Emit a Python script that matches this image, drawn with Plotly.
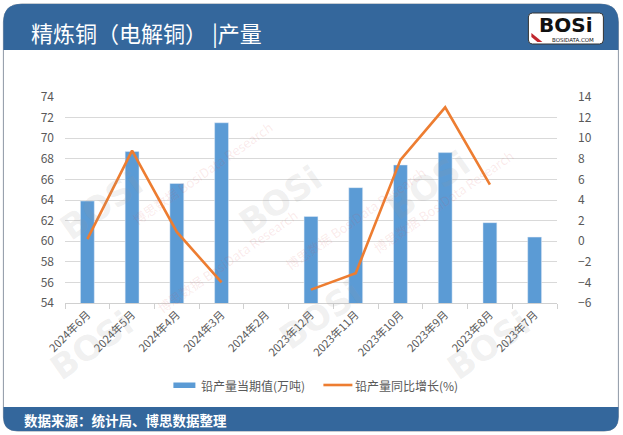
import plotly.graph_objects as go

categories = ["2024年6月", "2024年5月", "2024年4月", "2024年3月", "2024年2月",
              "2023年12月", "2023年11月", "2023年10月", "2023年9月", "2023年8月", "2023年7月"]
output_values = [63.9, 68.7, 65.6, 71.5, None, 62.4, 65.2, 67.4, 68.6, 61.8, 60.4]
growth_values = [0.2, 8.8, 0.9, -4.0, None, -4.7, -3.1, 7.9, 13.0, 5.5, None]
left_ticks = list(range(54, 75, 2))
right_ticks = list(range(-6, 15, 2))
series_names = ["铅产量当期值(万吨)", "铅产量同比增长(%)"]

W, H = 623, 435
PL, PR, PT, PB = 64.6, 556.6, 97.0, 303.0
BAR_COLOR = "#5B9BD5"
LINE_COLOR = "#ED7D31"
BLUE = "#34679c"


def px(x):
    return (x - PL) / (PR - PL)


def py(y):
    return (PB - y) / (PB - PT)


fig = go.Figure()
fig.add_trace(go.Bar(x=categories, y=output_values, name=series_names[0],
                     marker_color=BAR_COLOR, yaxis="y", showlegend=False))
fig.add_trace(go.Scatter(x=categories, y=growth_values, name=series_names[1],
                         mode="lines", line=dict(color=LINE_COLOR, width=2.6),
                         connectgaps=False, yaxis="y2", showlegend=False))


def rpath(x0, y0, x1, y1, rt, rb):
    pts = [
        f"M {px(x0)},{py(y0 + rt)}",
        f"Q {px(x0)},{py(y0)} {px(x0 + rt)},{py(y0)}",
        f"L {px(x1 - rt)},{py(y0)}",
        f"Q {px(x1)},{py(y0)} {px(x1)},{py(y0 + rt)}",
        f"L {px(x1)},{py(y1 - rb)}",
        f"Q {px(x1)},{py(y1)} {px(x1 - rb)},{py(y1)}",
        f"L {px(x0 + rb)},{py(y1)}",
        f"Q {px(x0)},{py(y1)} {px(x0)},{py(y1 - rb)}",
        "Z",
    ]
    return " ".join(pts)


shapes = [
    dict(type="path", xref="paper", yref="paper", path=rpath(3, 4, 618, 431, 18, 14),
         line=dict(color="#8d98a5", width=1), fillcolor="white", layer="below"),
    dict(type="path", xref="paper", yref="paper", path=rpath(3, 4, 618, 50, 18, 0),
         line=dict(width=0), fillcolor=BLUE, layer="below"),
    dict(type="path", xref="paper", yref="paper", path=rpath(3, 407, 618, 431, 0, 14),
         line=dict(width=0), fillcolor=BLUE, layer="below"),
    # logo box
    dict(type="path", xref="paper", yref="paper", path=rpath(528, 13, 603, 44, 4, 4),
         line=dict(color="#333333", width=1), fillcolor="white", layer="above"),
    # logo stripes
    dict(type="path", xref="paper", yref="paper",
         path=f"M {px(531)},{py(33)} L {px(542)},{py(42)} L {px(537)},{py(42)} L {px(531)},{py(37)} Z",
         line=dict(width=0), fillcolor="#c0262d", layer="above"),
    # custom legend
    dict(type="rect", xref="paper", yref="paper", x0=px(173), x1=px(195), y0=py(382.5), y1=py(388),
         line=dict(width=0), fillcolor=BAR_COLOR, layer="above"),
    dict(type="line", xref="paper", yref="paper", x0=px(323), x1=px(352), y0=py(385), y1=py(385),
         line=dict(color=LINE_COLOR, width=2.6), layer="above"),
]

annotations = [
    dict(text="精炼铜（电解铜） |产量", x=px(29), y=py(32), xref="paper", yref="paper",
         xanchor="left", yanchor="middle", showarrow=False,
         font=dict(size=22, color="white", family="Noto Sans CJK SC")),
    dict(text="<b>BOSi</b>", x=px(566), y=py(25), xref="paper", yref="paper",
         xanchor="center", yanchor="middle", showarrow=False,
         font=dict(size=20, color="#111111", family="DejaVu Sans")),
    dict(text="BOSIDATA.COM", x=px(573), y=py(39.5), xref="paper", yref="paper",
         xanchor="center", yanchor="middle", showarrow=False,
         font=dict(size=5.5, color="#111111", family="DejaVu Sans")),
    dict(text="<b>数据来源：统计局、博思数据整理</b>", x=px(22), y=py(420), xref="paper", yref="paper",
         xanchor="left", yanchor="middle", showarrow=False,
         font=dict(size=13.5, color="white", family="Noto Sans CJK SC")),
    dict(text=series_names[0], x=px(199), y=py(385), xref="paper", yref="paper",
         xanchor="left", yanchor="middle", showarrow=False,
         font=dict(size=12, color="#595959", family="Noto Sans CJK SC")),
    dict(text=series_names[1], x=px(353), y=py(385), xref="paper", yref="paper",
         xanchor="left", yanchor="middle", showarrow=False,
         font=dict(size=12, color="#595959", family="Noto Sans CJK SC")),
]

# faint watermarks
wm_logo = [(50, 160), (280, 200), (480, 140), (40, 390), (320, 360), (540, 390)]
wm_text = [(125, 115), (355, 160), (520, 260), (150, 320)]
for (wx, wy) in wm_logo:
    annotations.append(dict(text="<b>BOSi</b>", x=px(wx), y=py(wy), xref="paper", yref="paper",
                            showarrow=False, textangle=-35,
                            font=dict(size=34, color="rgba(150,150,150,0.15)", family="DejaVu Sans")))
for (wx, wy) in wm_text:
    annotations.append(dict(text="博思数据 BosiData Research", x=px(wx), y=py(wy), xref="paper",
                            yref="paper", showarrow=False, textangle=-35,
                            font=dict(size=13, color="rgba(220,80,80,0.12)", family="Noto Sans CJK SC")))

fig.update_layout(
    width=W, height=H,
    margin=dict(l=PL, r=W - PR, t=PT, b=H - PB),
    paper_bgcolor="white", plot_bgcolor="rgba(0,0,0,0)",
    bargap=0.69,
    font=dict(family="Noto Sans CJK SC", color="#595959"),
    showlegend=False,
    xaxis=dict(type="category", categoryorder="array", categoryarray=categories,
               tickangle=-45, tickfont=dict(size=11, color="#595959"),
               showline=True, linecolor="#d0d0d0", linewidth=1,
               ticks="outside", ticklen=5, tickcolor="#d0d0d0", tickson="boundaries",
               showgrid=False, fixedrange=True),
    yaxis=dict(range=[54, 74], tickvals=left_ticks, tickfont=dict(size=12, color="#595959"),
               showgrid=True, gridcolor="#d9d9d9", gridwidth=1, zeroline=False,
               showline=False, ticks="", ticklabelstandoff=10),
    yaxis2=dict(range=[-6, 14], tickvals=right_ticks, overlaying="y", side="right",
                tickfont=dict(size=12, color="#595959"), showgrid=False, zeroline=False,
                showline=False, ticks="", ticklabelstandoff=20),
    shapes=shapes,
    annotations=annotations,
)

fig.write_html("out.html", config={"displayModeBar": False},
               post_script="document.body.style.margin='0';document.body.style.padding='0';")
